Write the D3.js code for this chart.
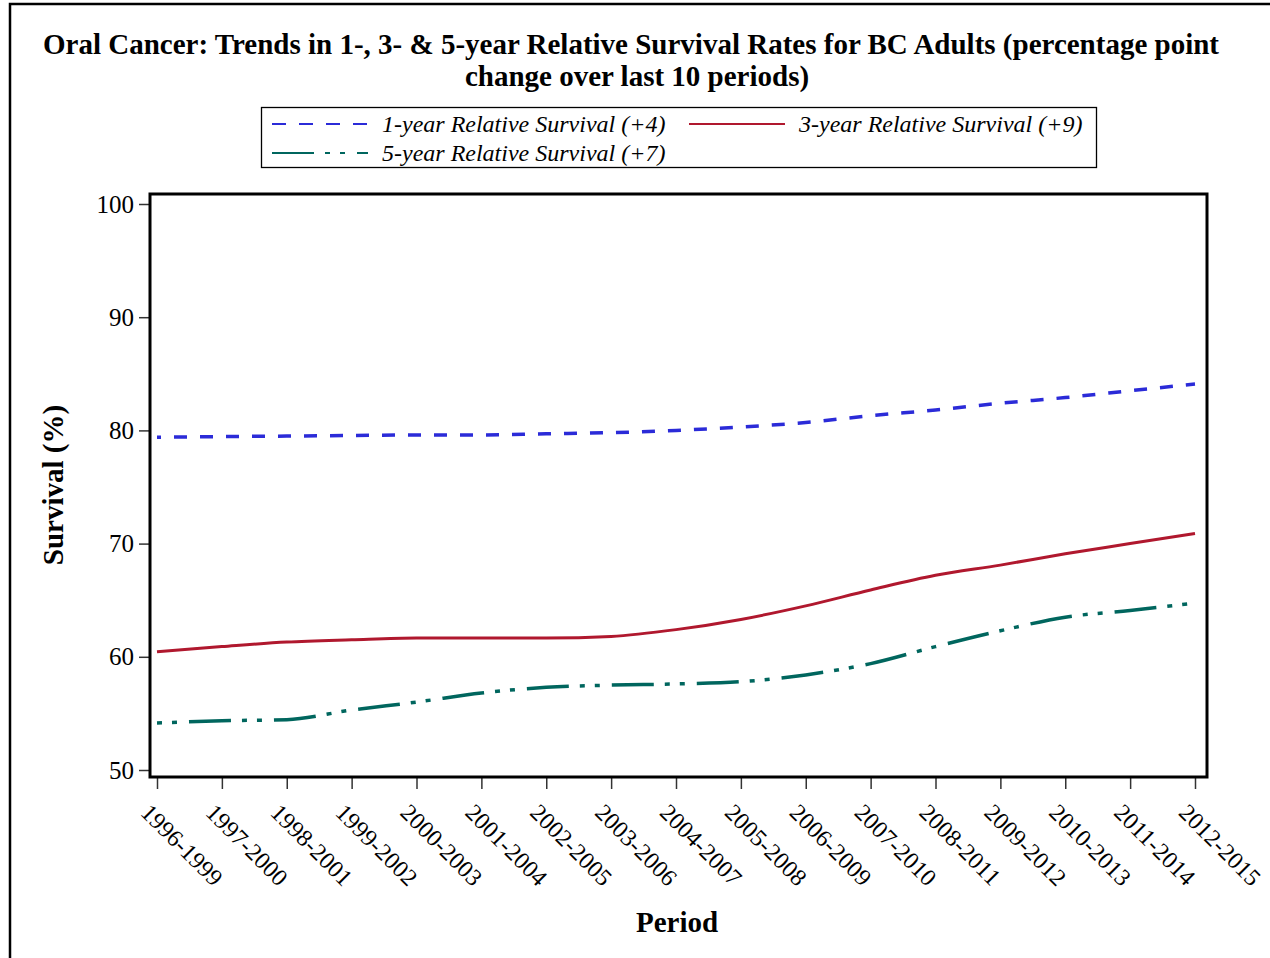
<!DOCTYPE html>
<html>
<head>
<meta charset="utf-8">
<script src="https://cdn.jsdelivr.net/npm/d3@7"></script>
<style>
	body { margin: 0; background: #fff; }
	text { font-family: "Liberation Serif", "Times New Roman", serif; }
</style>
</head>
<body>
<svg id="chart" width="1270" height="958"></svg>
<script>
var periods = ["1996-1999", "1997-2000", "1998-2001", "1999-2002", "2000-2003", "2001-2004",
	"2002-2005", "2003-2006", "2004-2007", "2005-2008", "2006-2009", "2007-2010",
	"2008-2011", "2009-2012", "2010-2013", "2011-2014", "2012-2015"];
var oneYear = [79.4, 79.45, 79.5, 79.55, 79.6, 79.6, 79.7, 79.8, 80.0, 80.3, 80.7, 81.3, 81.8, 82.4, 82.9, 83.5, 84.1];
var threeYear = [60.45, 60.9, 61.3, 61.5, 61.65, 61.65, 61.65, 61.8, 62.4, 63.3, 64.5, 65.9, 67.2, 68.1, 69.1, 70.0, 70.9];
var fiveYear = [54.15, 54.35, 54.45, 55.3, 56.0, 56.8, 57.3, 57.5, 57.6, 57.8, 58.4, 59.4, 60.9, 62.3, 63.5, 64.1, 64.75];
var yTicks = [50, 60, 70, 80, 90, 100];
var seriesNames = ["1-year Relative Survival (+4)", "3-year Relative Survival (+9)", "5-year Relative Survival (+7)"];

var series = [
	{name: seriesNames[0], values: oneYear, colour: "#2b2bd8", dash: "13,13", offset: 9, width: 3.5},
	{name: seriesNames[1], values: threeYear, colour: "#b0182e", dash: null, offset: 0, width: 3},
	{name: seriesNames[2], values: fiveYear, colour: "#00665e", dash: "42,11,5,10,5,12", offset: 53, width: 3.5}
];

var svg = d3.select("#chart");

// outer frame (runs off the bottom/right of the picture)
svg.append("rect")
	.attr("x", 10).attr("y", 4)
	.attr("width", 1290).attr("height", 980)
	.attr("fill", "none").attr("stroke", "#000").attr("stroke-width", 2.5);

// title
var title = svg.append("text")
	.attr("text-anchor", "middle")
	.attr("font-size", 29).attr("font-weight", "bold");
title.append("tspan").attr("x", 631).attr("y", 54)
	.text("Oral Cancer: Trends in 1-, 3- & 5-year Relative Survival Rates for BC Adults (percentage point");
title.append("tspan").attr("x", 637).attr("y", 86)
	.text("change over last 10 periods)");

// legend
var legend = svg.append("g");
legend.append("rect")
	.attr("x", 261.5).attr("y", 107.5).attr("width", 835).attr("height", 60)
	.attr("fill", "none").attr("stroke", "#000").attr("stroke-width", 1.3);
var legendPos = [[272, 124], [689, 124], [272, 153]];
series.forEach(function(s, i){
	var p = legendPos[i];
	legend.append("line")
		.attr("x1", p[0]).attr("x2", p[0] + 96)
		.attr("y1", p[1]).attr("y2", p[1])
		.attr("stroke", s.colour).attr("stroke-width", 2)
		.attr("stroke-dasharray", i == 0 ? "14,13" : s.dash);
	legend.append("text")
		.attr("x", p[0] + 110).attr("y", p[1] + 8)
		.attr("font-size", 24).attr("font-style", "italic")
		.text(s.name);
});

// plot area
var frame = {left: 150, top: 194, right: 1207, bottom: 777};

var x = d3.scalePoint()
	.domain(periods)
	.range([157, 1195]);
var y = d3.scaleLinear()
	.domain([50, 100])
	.range([770, 204]);

var yAxis = svg.append("g")
	.attr("transform", "translate(" + frame.left + ",0)")
	.call(d3.axisLeft(y).tickValues(yTicks).tickSize(11).tickPadding(5));
yAxis.select(".domain").remove();
yAxis.selectAll("line").attr("stroke", "#333").attr("stroke-width", 1.5);
yAxis.selectAll("text")
	.attr("font-family", "Liberation Serif").attr("font-size", 25).attr("fill", "#000");

var xAxis = svg.append("g")
	.attr("transform", "translate(0," + frame.bottom + ")")
	.call(d3.axisBottom(x).tickSize(12));
xAxis.select(".domain").remove();
xAxis.selectAll("line").attr("stroke", "#333").attr("stroke-width", 1.5);
xAxis.selectAll("text")
	.attr("font-family", "Liberation Serif").attr("font-size", 24).attr("fill", "#000")
	.attr("text-anchor", "start")
	.attr("dy", 0).attr("y", 0)
	.attr("transform", "translate(-18,37) rotate(45)");

var line = d3.line()
	.x(function(d, i) { return x(periods[i]); })
	.y(function(d) { return y(d); })
	.curve(d3.curveMonotoneX);

svg.append("g").selectAll("path")
	.data(series)
	.enter()
	.append("path")
		.attr("d", function(s) { return line(s.values); })
		.attr("fill", "none")
		.attr("stroke", function(s) { return s.colour; })
		.attr("stroke-width", function(s) { return s.width; })
		.attr("stroke-dasharray", function(s) { return s.dash; })
		.attr("stroke-dashoffset", function(s) { return s.offset; });

svg.append("rect")
	.attr("x", frame.left).attr("y", frame.top)
	.attr("width", frame.right - frame.left).attr("height", frame.bottom - frame.top)
	.attr("fill", "none").attr("stroke", "#000").attr("stroke-width", 3);

// axis labels
svg.append("text")
	.attr("x", 677).attr("y", 932)
	.attr("text-anchor", "middle")
	.attr("font-size", 29).attr("font-weight", "bold")
	.text("Period");
svg.append("text")
	.attr("transform", "translate(63,485) rotate(-90)")
	.attr("text-anchor", "middle")
	.attr("font-size", 29).attr("font-weight", "bold")
	.text("Survival (%)");
</script>
</body>
</html>
